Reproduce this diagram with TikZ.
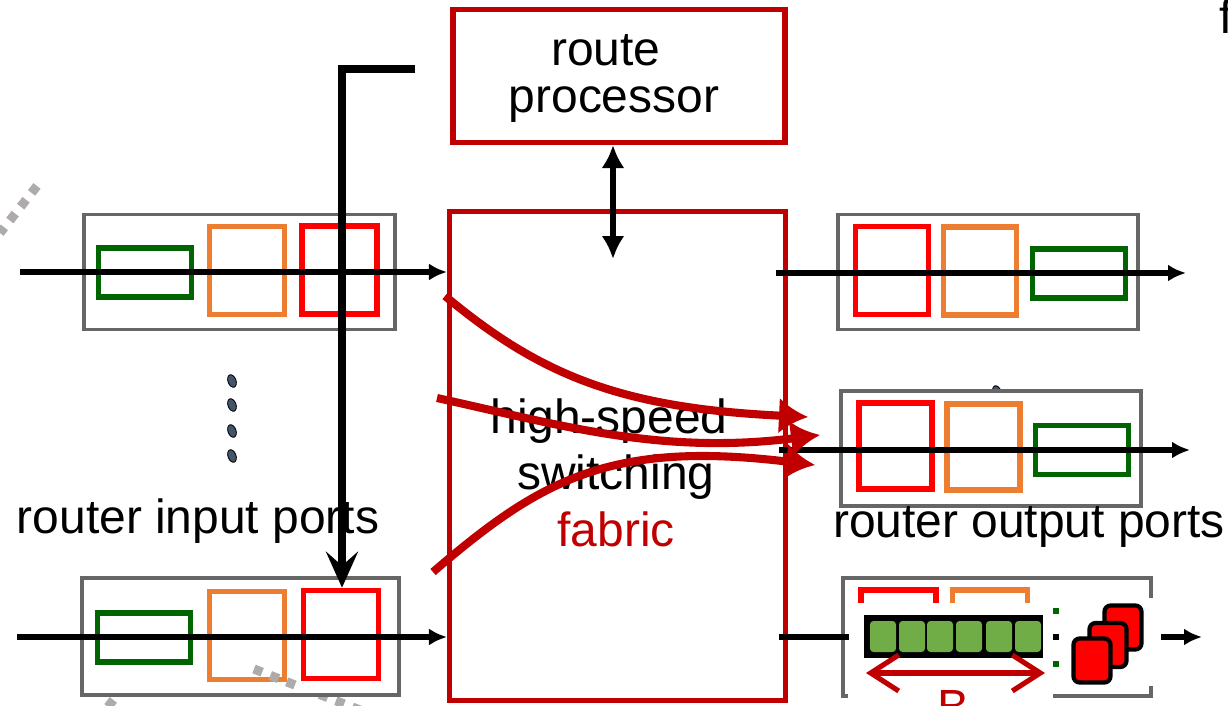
\documentclass[tikz,border=0pt]{standalone}
\usepackage{fontspec}
\setmainfont{Liberation Sans}
\usetikzlibrary{arrows.meta}
\definecolor{fabricred}{HTML}{C00000}
\definecolor{portgray}{HTML}{666666}
\definecolor{dotgray}{HTML}{AFABAB}
\definecolor{portorange}{HTML}{ED7D31}
\definecolor{portgreen}{HTML}{006400}
\definecolor{cellgreen}{HTML}{70AD47}
\definecolor{dotslate}{HTML}{44546A}
\tikzset{
    bigtext/.style={font=\fontsize{27.3}{33}\selectfont, inner sep=0pt},
    redbox/.style={draw=fabricred, line width=2.9pt, inner sep=0pt},
    portbox/.style={draw=portgray, fill=white, line width=1.9pt, inner sep=0pt},
    greenbox/.style={draw=portgreen, line width=3.2pt, inner sep=0pt, minimum width=1.86cm, minimum height=.98cm},
    orangebox/.style={draw=portorange, line width=3.2pt, inner sep=0pt, minimum width=1.5cm, minimum height=1.76cm},
    reddbox/.style={draw=red, line width=3.2pt, inner sep=0pt, minimum width=1.5cm, minimum height=1.76cm},
    link/.style={line width=2.9pt, -{Latex[length=.36cm,width=.34cm]}},
    switchcurve/.style={draw=fabricred, line width=4.6pt, -{Latex[length=.58cm,width=.72cm]}},
    graydash/.style={draw=dotgray, line width=5.2pt, dash pattern=on 5pt off 5pt},
    portdot/.style={draw=black, fill=dotslate, line width=.5pt, ellipse, inner sep=0pt, minimum width=.16cm, minimum height=.26cm, rotate=20},
    pkt/.style={draw=black, fill=red, line width=2.4pt, rounded corners=3.5pt, inner sep=0pt, minimum width=.74cm, minimum height=.88cm},
    cell/.style={fill=cellgreen, rounded corners=2pt, inner sep=0pt, minimum width=.52cm, minimum height=.62cm}
}
\usetikzlibrary{shapes.geometric}
\begin{document}
\begin{tikzpicture}[x=.02cm, y=-.02cm]
    \useasboundingbox (0,0) rectangle (1228,706);
    \fill[white] (0,0) rectangle (1228,706);
    % dotted leftovers
    \draw[graydash] (37,186) -- (0,233);
    \draw[graydash] (254,669) -- (365,712);
    \draw[graydash] (124,686) -- (104,712);
    % route processor and fabric
    \node (procbox) [redbox, minimum width=6.64cm, minimum height=2.66cm] at (619,76) {};
    \node (fabric) [redbox, minimum width=6.72cm, minimum height=9.78cm] at (617.5,456) {};
    \node (routetext) [bigtext] at (606,50) {route};
    \node (proctext) [bigtext] at (614,105) {processor};
    \node (hightext) [bigtext] at (609,421) {high-speed};
    \node (switchtext) [bigtext] at (616,477) {switching};
    \node (fabrictext) [bigtext, text=fabricred] at (616,529) {fabric};
    % input ports
    \node (inAbox) [portbox, minimum width=6.22cm, minimum height=2.3cm] at (239.5,272) {};
    \node (inAgreen) [greenbox] at (145,272.5) {};
    \node (inAorange) [orangebox] at (247,270.5) {};
    \node (inAred) [reddbox] at (339.5,270) {};
    \node (inBbox) [portbox, minimum width=6.34cm, minimum height=2.34cm] at (240.5,636.5) {};
    \node (inBgreen) [greenbox] at (144,637.5) {};
    \node (inBorange) [orangebox] at (247,635.5) {};
    \node (inBred) [reddbox] at (341,634.5) {};
    \draw[graydash] (254,669) -- (300,687);
    \foreach \y [count=\i] in {381,405,431,456}
    {
        \node (dot\i) [portdot] at (232,\y) {};
    }
    \node (intext) [bigtext] at (198,521) {router input ports};
    % output ports
    \node (hiddendot) [portdot] at (997,392) {};
    \node (outAbox) [portbox, minimum width=6cm, minimum height=2.3cm] at (988,272) {};
    \node (outAred) [reddbox, minimum width=1.46cm] at (892,270.5) {};
    \node (outAorange) [orangebox, minimum width=1.46cm] at (980,271) {};
    \node (outAgreen) [greenbox] at (1079,273.5) {};
    \node (outBbox) [portbox, minimum width=6cm, minimum height=2.3cm] at (991,448.5) {};
    \node (outBred) [reddbox, minimum width=1.46cm, minimum height=1.72cm] at (895.5,446) {};
    \node (outBorange) [orangebox, minimum width=1.46cm, minimum height=1.72cm] at (983.5,447) {};
    \node (outBgreen) [greenbox] at (1082,450) {};
    \node (outtext) [bigtext] at (1029,527) {router output ports};
    % last port, broken up by the buffer
    \draw[portgray, line width=1.9pt] (848,696) -- (843,696) -- (843,578) -- (1151,578) -- (1151,598);
    \draw[portgray, line width=1.9pt] (1053,696) -- (1151,696) -- (1151,686);
    \draw[red, line width=3.2pt] (861,603) -- (861,590) -- (936,590) -- (936,603);
    \draw[portorange, line width=3.2pt] (952.5,603) -- (952.5,590) -- (1027.5,590) -- (1027.5,603);
    \node (queue) [fill=black, inner sep=0pt, minimum width=3.58cm, minimum height=.88cm] at (953.5,636.5) {};
    \foreach \x [count=\i] in {883,912,940,969,999,1028}
    {
        \node (cell\i) [cell] at (\x,636.5) {};
    }
    \node (pktC) [pkt] at (1123,627.5) {};
    \node (pktB) [pkt] at (1108,645) {};
    \node (pktA) [pkt] at (1092,660.5) {};
    \fill[portgreen] (1053,608) rectangle (1059,614);
    \fill[black] (1053,634) rectangle (1059,640);
    \fill[portgreen] (1053,661) rectangle (1059,667);
    \coordinate (bufL) at (866,673);
    \coordinate (bufR) at (1045,673);
    \draw[fabricred, line width=2.9pt, line cap=round, {Straight Barb[length=.56cm,width=.72cm]}-{Straight Barb[length=.56cm,width=.72cm]}] (bufL) -- (bufR);
    \node (btext) [bigtext, text=fabricred, anchor=base] at (953,723) {B};
    \node (cuttext) [bigtext, anchor=base west] at (1219,34) {f};
    % links
    \coordinate (inAstart) at (20,272);
    \coordinate (inBstart) at (17,637);
    \coordinate (outAstart) at (776,273);
    \coordinate (outAend) at (1186,273);
    \coordinate (outBstart) at (779,450);
    \coordinate (outBend) at (1190,450);
    \coordinate (outCstart) at (779,637);
    \coordinate (outCend) at (849,637);
    \coordinate (pktout) at (1161,637);
    \coordinate (pktend) at (1202,637);
    \draw[link] (inAstart) -- (inAstart -| fabric.west);
    \draw[link] (inBstart) -- (inBstart -| fabric.west);
    \draw[link] (outAstart) -- (outAend);
    \draw[link] (outBstart) -- (outBend);
    \draw[line width=2.9pt] (outCstart) -- (outCend);
    \draw[link] (pktout) -- (pktend);
    % control path
    \coordinate (ctrlstart) at (415,69);
    \coordinate (ctrlcorner) at (342,69);
    \draw[line width=4pt, -{Stealth[length=.72cm,width=.64cm,inset=.28cm]}] (ctrlstart) -- (ctrlcorner) -- (ctrlcorner |- inBred.north);
    \coordinate (procend) at (613,259);
    \draw[line width=2.9pt, {Latex[length=.46cm,width=.46cm]}-{Latex[length=.46cm,width=.46cm]}] (procbox.south -| procend) -- (procend);
    % crossing paths through the fabric
    \coordinate (swAstart) at (445,296);
    \coordinate (swAend) at (808,417);
    \coordinate (swBstart) at (437,398);
    \coordinate (swBend) at (820,435);
    \coordinate (swCstart) at (433,572);
    \coordinate (swCend) at (815,465);
    \draw[switchcurve] (swAstart) .. controls (540,375) and (620,408) .. (swAend);
    \draw[switchcurve] (swBstart) .. controls (560,425) and (660,455) .. (swBend);
    \draw[switchcurve] (swCstart) .. controls (540,480) and (610,440) .. (swCend);
\end{tikzpicture}
\end{document}
